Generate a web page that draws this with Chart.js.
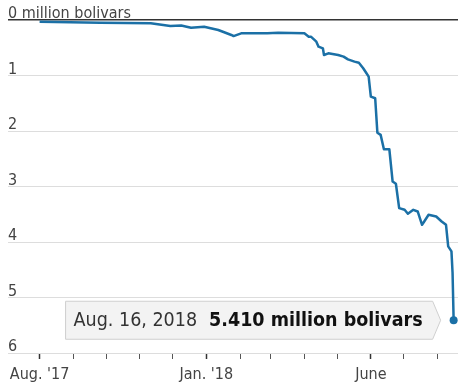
<!DOCTYPE html>
<html lang="en">
<head>
<meta charset="UTF-8">
<title>Bolivars per dollar</title>
<script src="https://cdn.jsdelivr.net/npm/chart.js"></script>
<style>
  html, body { margin: 0; padding: 0; background: #fff; }
  #wrap { width: 474px; height: 388px; }
</style>
</head>
<body>
<div id="wrap"><canvas id="chart" width="474" height="388"></canvas></div>
<script>
// black-market rate, million bolivars
const dates = [
  '2017-08-01', '2017-09-26', '2017-11-11', '2017-11-29', '2017-12-09', '2017-12-18',
  '2017-12-30', '2018-01-12', '2018-01-24', '2018-01-26', '2018-02-02', '2018-02-26',
  '2018-03-08', '2018-04-01', '2018-04-05', '2018-04-07', '2018-04-12', '2018-04-14',
  '2018-04-18', '2018-04-19', '2018-04-23', '2018-05-02', '2018-05-07', '2018-05-11',
  '2018-05-17', '2018-05-21', '2018-05-25', '2018-05-28', '2018-05-30', '2018-06-01',
  '2018-06-05', '2018-06-07', '2018-06-10', '2018-06-13', '2018-06-18', '2018-06-21',
  '2018-06-24', '2018-06-27', '2018-07-02', '2018-07-05', '2018-07-10', '2018-07-14',
  '2018-07-18', '2018-07-20', '2018-07-24', '2018-07-31', '2018-08-05', '2018-08-09',
  '2018-08-11', '2018-08-14', '2018-08-15', '2018-08-16'
];
const values = [
  0.03, 0.05, 0.06, 0.11, 0.10, 0.14,
  0.12, 0.18, 0.27, 0.29, 0.24, 0.24,
  0.23, 0.24, 0.30, 0.30, 0.39, 0.48,
  0.51, 0.63, 0.60, 0.63, 0.66, 0.71,
  0.75, 0.77, 0.87, 0.96, 1.02, 1.38,
  1.41, 2.03, 2.07, 2.33, 2.33, 2.91,
  2.95, 3.39, 3.42, 3.49, 3.42, 3.45,
  3.69, 3.63, 3.51, 3.54, 3.63, 3.69,
  4.08, 4.17, 4.55, 5.41
];

const monthTicks = [
  '2017-08-01', '2017-09-01', '2017-10-01', '2017-11-01', '2017-12-01', '2018-01-01',
  '2018-02-01', '2018-03-01', '2018-04-01', '2018-05-01', '2018-06-01', '2018-07-01',
  '2018-08-01'
];
const tickLabels = { '2017-08-01': "Aug. '17", '2018-01-01': "Jan. '18", '2018-06-01': 'June' };
const yUnit = 'million bolivars';
const calloutDate = 'Aug. 16, 2018';
const calloutValue = '5.410 million bolivars';

const FONT = "'Liberation Sans Narrow', 'DejaVu Sans Condensed', 'Roboto Condensed', Roboto, sans-serif";
const BLUE = '#1b70a6';

const origin = Date.parse('2017-08-01');
const dayOf = s => (Date.parse(s) - origin) / 864e5;

const labelByDay = {};
for (const d in tickLabels) labelByDay[dayOf(d)] = tickLabels[d];

const points = dates.map((d, i) => ({ x: dayOf(d), y: values[i] }));

// boxed label pointing at the last value
const callout = {
  id: 'callout',
  afterDatasetsDraw(chart) {
    const meta = chart.getDatasetMeta(0);
    const pt = meta.data[meta.data.length - 1];
    const ctx = chart.ctx;
    ctx.save();
    const fReg = '19.5px ' + FONT;
    const fBold = 'bold 19.5px ' + FONT;
    ctx.font = fReg;
    const w1 = ctx.measureText(calloutDate).width;
    ctx.font = fBold;
    const w2 = ctx.measureText(calloutValue).width;
    const right = pt.x - 21, tip = pt.x - 13;
    const left = right - (8 + w1 + 12 + w2 + 10);
    const top = pt.y - 19, bottom = pt.y + 19;
    ctx.beginPath();
    ctx.moveTo(left, top);
    ctx.lineTo(right, top);
    ctx.lineTo(tip, pt.y);
    ctx.lineTo(right, bottom);
    ctx.lineTo(left, bottom);
    ctx.closePath();
    ctx.fillStyle = '#f3f3f3';
    ctx.fill();
    ctx.strokeStyle = '#cfcfcf';
    ctx.lineWidth = 1;
    ctx.stroke();
    ctx.textBaseline = 'middle';
    ctx.font = fReg;
    ctx.fillStyle = '#333';
    ctx.fillText(calloutDate, left + 8, pt.y + 1);
    ctx.font = fBold;
    ctx.fillStyle = '#111';
    ctx.fillText(calloutValue, left + 8 + w1 + 12, pt.y + 1);
    ctx.restore();
  }
};

new Chart(document.getElementById('chart'), {
  type: 'line',
  data: {
    datasets: [{
      data: points,
      borderColor: BLUE,
      borderWidth: 2.5,
      borderJoinStyle: 'round',
      tension: 0,
      pointRadius: c => c.dataIndex === values.length - 1 ? 4 : 0,
      pointBackgroundColor: BLUE,
      pointBorderWidth: 0
    }]
  },
  options: {
    responsive: false,
    animation: false,
    layout: { padding: { top: 20, right: 16, left: 8, bottom: 0 } },
    plugins: { legend: { display: false }, tooltip: { enabled: false } },
    scales: {
      x: {
        type: 'linear',
        min: dayOf('2017-07-03'),
        max: dayOf('2018-08-20'),
        afterBuildTicks: s => { s.ticks = monthTicks.map(d => ({ value: dayOf(d) })); },
        afterFit: s => { s.height = 35; },
        border: { display: false },
        grid: {
          drawOnChartArea: false,
          tickLength: 6,
          tickColor: c => labelByDay[c.tick.value] ? '#333' : '#555',
          tickWidth: c => labelByDay[c.tick.value] ? 1.5 : 1
        },
        ticks: {
          autoSkip: false,
          maxRotation: 0,
          padding: 6,
          color: '#444',
          font: { family: FONT, size: 16 },
          callback: v => labelByDay[v] || ''
        }
      },
      y: {
        reverse: true,
        min: 0,
        max: 6,
        afterFit: s => { s.width = 0; },
        border: { display: false },
        grid: {
          drawTicks: false,
          color: c => c.tick.value === 0 ? '#333' : '#ddd',
          lineWidth: c => c.tick.value === 0 ? 1.5 : 1
        },
        ticks: {
          stepSize: 1,
          mirror: true,
          padding: 0,
          labelOffset: -6,
          color: '#444',
          font: { family: FONT, size: 16 },
          callback: v => v === 0 ? '0 ' + yUnit : v
        }
      }
    }
  },
  plugins: [callout]
});
</script>
</body>
</html>
